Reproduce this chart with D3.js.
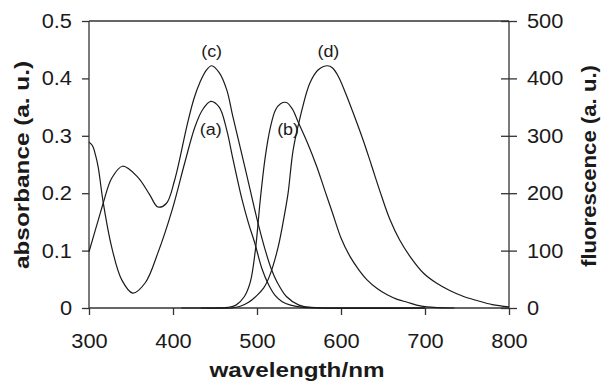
<!DOCTYPE html>
<html><head><meta charset="utf-8">
<script src="https://cdn.jsdelivr.net/npm/d3@7/dist/d3.min.js"></script>
<style>
html,body{margin:0;padding:0;background:#fff;}
svg{display:block;}
text{font-family:"Liberation Sans",Arial,Helvetica,sans-serif;fill:#1a1a1a;}
</style></head>
<body>
<svg id="chart" width="602" height="381"></svg>
<script>
// ---- data ----
const xTicks = [300, 400, 500, 600, 700, 800];
const absTicks = [0, 0.1, 0.2, 0.3, 0.4, 0.5];
const absTickLabels = ["0", "0.1", "0.2", "0.3", "0.4", "0.5"];
const fluTicks = [0, 100, 200, 300, 400, 500];
const fluTickLabels = ["0", "100", "200", "300", "400", "500"];

// (a) absorbance, left axis
const wavelengthA = [300,304,308,311,317,327,339,352,367,382,399,414,426,435,445,455,464,471,482,490,497,506,514,521,530,540,555,570,700];
const absorbanceA = [0.289,0.283,0.265,0.245,0.183,0.106,0.049,0.026,0.044,0.096,0.171,0.253,0.315,0.345,0.360,0.350,0.310,0.262,0.190,0.147,0.115,0.068,0.040,0.023,0.011,0.005,0.001,0,0];

// (c) absorbance, left axis
const wavelengthC = [300,311,317,327,340,358,372,382,392,402,417,425,432,440,446,455,464,471,480,492,500,510,517,524,535,550,565,580,700];
const absorbanceC = [0.098,0.153,0.183,0.226,0.247,0.228,0.198,0.176,0.182,0.223,0.320,0.365,0.393,0.415,0.422,0.410,0.380,0.335,0.280,0.205,0.155,0.100,0.068,0.045,0.020,0.005,0.001,0,0];

// (b) fluorescence, right axis
const wavelengthB = [433,450,465,475,485,492,498,504,510,516,522,528,535,542,549,560,571,580,590,600,611,621,631,643,655,667,679,690,702,735];
const fluorescenceB = [0,0,1,5,20,45,100,190,265,315,345,356,358,347,324,288,247,208,165,122,89,67,49,34,23,15,10,5,2,0];

// (d) fluorescence, right axis
const wavelengthD = [410,440,470,480,490,500,508,515,525,533,537,543,551,563,573,584,590,597,605,614,626,636,646,658,670,684,698,714,730,746,762,780,800];
const fluorescenceD = [0,0,0,3,10,22,35,56,105,165,200,275,330,392,415,422,418,403,376,342,294,250,205,155,118,86,61,43,30,20,13,6,2];

const labels = [
  {text: "(c)", x: 446, y: 0.437, axis: "abs"},
  {text: "(a)", x: 445, y: 0.302, axis: "abs"},
  {text: "(b)", x: 537, y: 302, axis: "flu"},
  {text: "(d)", x: 585, y: 437, axis: "flu"}
];

// ---- layout ----
const W = 602, H = 381;
const m = {left: 89, right: 93, top: 21, bottom: 73};
const svg = d3.select("#chart");

const x = d3.scaleLinear().domain([300, 800]).range([m.left, W - m.right]);
const yA = d3.scaleLinear().domain([0, 0.5]).range([H - m.bottom, m.top]);
const yF = d3.scaleLinear().domain([0, 500]).range([H - m.bottom, m.top]);

const ink = "#1a1a1a";

function stretch(sel, k) {
  sel.each(function () {
    const w = this.getComputedTextLength();
    d3.select(this).attr("textLength", w * k).attr("lengthAdjust", "spacingAndGlyphs");
  });
}

// top frame line
svg.append("line")
  .attr("x1", x(300)).attr("x2", x(800))
  .attr("y1", yA(0.5)).attr("y2", yA(0.5))
  .attr("stroke", "#333").attr("stroke-width", 1.3);

// bottom axis
const gx = svg.append("g")
  .attr("transform", `translate(0,${yA(0)})`)
  .call(d3.axisBottom(x).tickValues(xTicks).tickFormat(d3.format("d")).tickSize(7).tickPadding(19));
// left axis
const gl = svg.append("g")
  .attr("transform", `translate(${x(300)},0)`)
  .call(d3.axisLeft(yA).tickValues(absTicks).tickFormat((d, i) => absTickLabels[i]).tickSize(7).tickPadding(10));
// right axis
const gr = svg.append("g")
  .attr("transform", `translate(${x(800)},0)`)
  .call(d3.axisRight(yF).tickValues(fluTicks).tickFormat((d, i) => fluTickLabels[i]).tickSize(8).tickPadding(10));
gr.selectAll(".tick").append("line")
  .attr("x1", -8).attr("x2", 0).attr("stroke", "#333").attr("stroke-width", 1.3);

[gx, gl, gr].forEach(g => {
  g.select(".domain").attr("stroke", "#333").attr("stroke-width", 1.3);
  g.selectAll(".tick line").attr("stroke", "#333").attr("stroke-width", 1.3);
  g.selectAll(".tick text")
    .style("font-family", '"Liberation Sans", Arial, sans-serif')
    .attr("font-size", 20).attr("fill", ink);
  stretch(g.selectAll(".tick text"), 1.09);
});
gl.select(".domain").attr("d", `M0,${yA(0.5)}V${yA(0)}`);
gr.select(".domain").attr("d", `M0,${yF(500)}V${yF(0)}`);
gx.select(".domain").attr("d", `M${x(300)},0H${x(800)}`);

// curves
const lineA = d3.line().x(d => x(d[0])).y(d => yA(d[1])).curve(d3.curveCatmullRom.alpha(0.5));
const lineF = d3.line().x(d => x(d[0])).y(d => yF(d[1])).curve(d3.curveCatmullRom.alpha(0.5));

const series = [
  {wl: wavelengthA, v: absorbanceA, gen: lineA},
  {wl: wavelengthC, v: absorbanceC, gen: lineA},
  {wl: wavelengthB, v: fluorescenceB, gen: lineF},
  {wl: wavelengthD, v: fluorescenceD, gen: lineF}
];
series.forEach(s => {
  svg.append("path")
    .datum(d3.zip(s.wl, s.v))
    .attr("d", s.gen)
    .attr("fill", "none")
    .attr("stroke", ink)
    .attr("stroke-width", 1.2);
});

// curve labels
svg.selectAll(".clabel").data(labels).enter().append("text")
  .attr("class", "clabel")
  .attr("x", d => x(d.x))
  .attr("y", d => d.axis === "abs" ? yA(d.y) : yF(d.y))
  .attr("text-anchor", "middle")
  .attr("font-size", 16)
  .text(d => d.text)
  .call(sel => stretch(sel, 1.12));

// axis titles
svg.append("text")
  .attr("x", 297).attr("y", 377)
  .attr("text-anchor", "middle")
  .attr("font-size", 20).attr("font-weight", "bold")
  .attr("textLength", 175).attr("lengthAdjust", "spacingAndGlyphs")
  .text("wavelength/nm");

svg.append("text")
  .attr("transform", "translate(29,165) rotate(-90)")
  .attr("text-anchor", "middle")
  .attr("font-size", 20).attr("font-weight", "bold")
  .attr("textLength", 208).attr("lengthAdjust", "spacingAndGlyphs")
  .text("absorbance (a. u.)");

svg.append("text")
  .attr("transform", "translate(596,166) rotate(-90)")
  .attr("text-anchor", "middle")
  .attr("font-size", 20).attr("font-weight", "bold")
  .attr("textLength", 202).attr("lengthAdjust", "spacingAndGlyphs")
  .text("fluorescence (a. u.)");
</script>
</body></html>
